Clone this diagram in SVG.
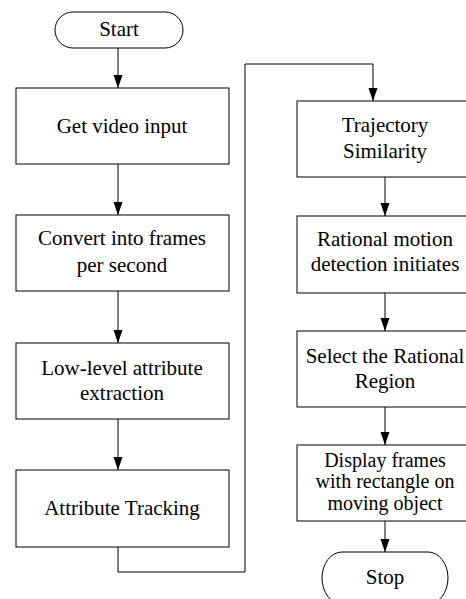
<svg xmlns="http://www.w3.org/2000/svg" width="466" height="599" viewBox="0 0 466 599">
<style>
.box{fill:#fff;stroke:#000;stroke-width:1}
.t{font-family:"Liberation Serif","Tinos","Times New Roman","DejaVu Serif",serif;font-size:21px;fill:#000;text-anchor:middle}
.s{font-size:20px}
.c{fill:none;stroke:#000;stroke-width:1}
</style>
<defs>
<marker id="ah" markerUnits="userSpaceOnUse" markerWidth="13" markerHeight="10" refX="13" refY="4.5" orient="auto">
<path d="M0,0 L13,4.5 L0,9 z" fill="#000"/>
</marker>
</defs>
<rect width="466" height="599" fill="#fff"/>
<g id="connectors">
<path class="c" d="M118,48 V88" marker-end="url(#ah)"/>
<path class="c" d="M118,164 V215" marker-end="url(#ah)"/>
<path class="c" d="M118,291 V343" marker-end="url(#ah)"/>
<path class="c" d="M118,419 V470" marker-end="url(#ah)"/>
<path class="c" d="M118,547 V572 H245 V64 H373 V101" marker-end="url(#ah)"/>
<path class="c" d="M385,177 V216" marker-end="url(#ah)"/>
<path class="c" d="M385,293 V331" marker-end="url(#ah)"/>
<path class="c" d="M385,407 V445" marker-end="url(#ah)"/>
<path class="c" d="M385,521 V552" marker-end="url(#ah)"/>
</g>
<g id="start">
<rect class="box" x="55" y="12" width="128" height="36" rx="18" ry="18"/>
<text class="t" x="119" y="36">Start</text>
</g>
<g id="get-video">
<rect class="box" x="16" y="88" width="213" height="76"/>
<text class="t" x="122" y="133">Get video input</text>
</g>
<g id="convert">
<rect class="box" x="16" y="215" width="213" height="76"/>
<text class="t" x="122" y="245">Convert into frames</text>
<text class="t" x="122" y="272">per second</text>
</g>
<g id="low-level">
<rect class="box" x="16" y="343" width="213" height="76"/>
<text class="t" x="122" y="375">Low-level attribute</text>
<text class="t" x="122" y="400">extraction</text>
</g>
<g id="tracking">
<rect class="box" x="16" y="470" width="213" height="77"/>
<text class="t" x="122" y="515">Attribute Tracking</text>
</g>
<g id="trajectory">
<rect class="box" x="297" y="101" width="177" height="76"/>
<text class="t" x="385" y="132">Trajectory</text>
<text class="t" x="385" y="158">Similarity</text>
</g>
<g id="rational-motion">
<rect class="box" x="297" y="216" width="177" height="77"/>
<text class="t" x="385" y="246">Rational motion</text>
<text class="t" x="385" y="271">detection initiates</text>
</g>
<g id="select-region">
<rect class="box" x="297" y="331" width="177" height="76"/>
<text class="t" x="385" y="363">Select the Rational</text>
<text class="t" x="385" y="388">Region</text>
</g>
<g id="display">
<rect class="box" x="297" y="445" width="177" height="76"/>
<text class="t s" x="385" y="467">Display frames</text>
<text class="t s" x="385" y="488">with rectangle on</text>
<text class="t s" x="385" y="510">moving object</text>
</g>
<g id="stop">
<rect class="box" x="322" y="552" width="126" height="52" rx="20" ry="26"/>
<text class="t" x="385" y="584">Stop</text>
</g>
</svg>
